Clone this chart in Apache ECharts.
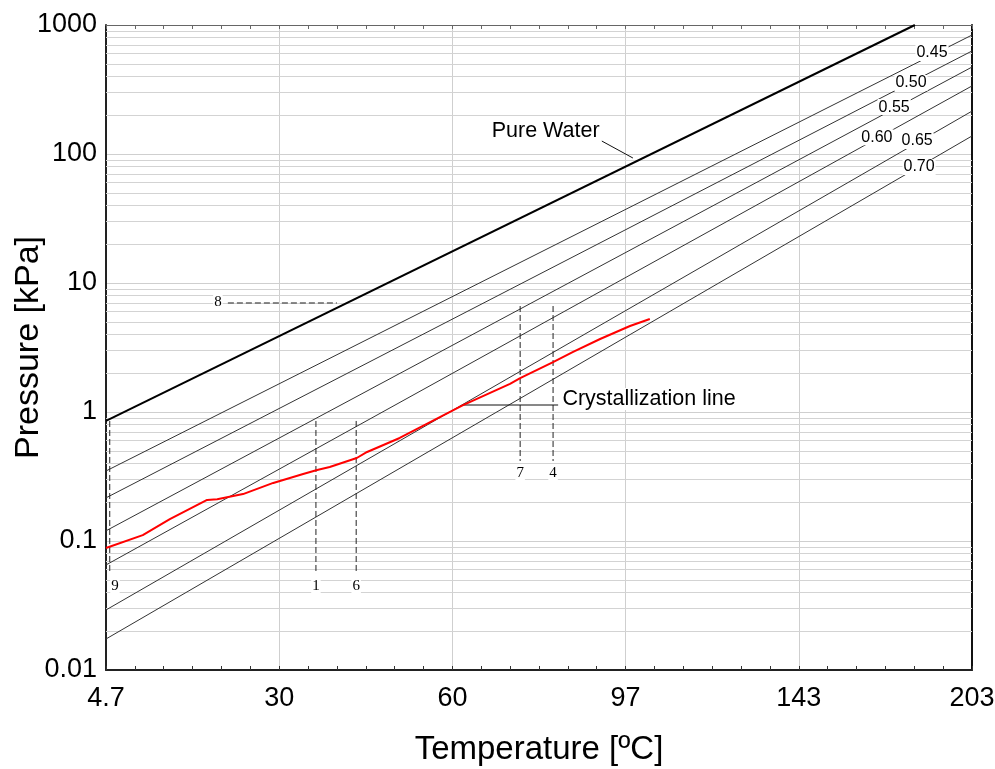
<!DOCTYPE html>
<html>
<head>
<meta charset="utf-8">
<script src="https://cdn.jsdelivr.net/npm/echarts@6/dist/echarts.min.js"></script>
<style>
html, body { margin: 0; padding: 0; background: #fff; }
#chart { width: 995px; height: 769px; }
</style>
</head>
<body>
<div id="chart"></div>
<script>
// tick labels
var tempTicks = ['4.7', '30', '60', '97', '143', '203'];
var pressureTicks = ['0.01', '0.1', '1', '10', '100', '1000'];

// [temperature ºC, pressure kPa]
var pureWater = [[4.7, 0.852], [181.6, 1000]];
var conc045 = [[4.7, 0.349], [203, 836]];
var conc050 = [[4.7, 0.216], [203, 629]];
var conc055 = [[4.7, 0.120], [203, 472]];
var conc060 = [[4.7, 0.0652], [203, 337]];
var conc065 = [[4.7, 0.0292], [203, 215]];
var conc070 = [[4.7, 0.0174], [203, 138]];
var crystallization = [[4.7, 0.0883], [9.7, 0.111], [13.5, 0.148], [18.9, 0.208], [20.4, 0.211],
	[24.3, 0.231], [29.0, 0.282], [33.8, 0.331], [36.1, 0.355], [38.2, 0.375], [42.8, 0.440],
	[44.6, 0.490], [50.4, 0.629], [62.3, 1.13], [71.7, 1.65], [73.8, 1.83], [80.8, 2.44],
	[85.2, 2.92], [91.3, 3.68], [98.3, 4.64], [103.1, 5.26]];

// concentration labels sitting on their lines
var concNames = ['0.45', '0.50', '0.55', '0.60', '0.65', '0.70'];
var concLabelAt = [[187.8, 607], [180.2, 355], [174.3, 231], [168.4, 135], [182.4, 126], [183.1, 79.3]];

// numbered state points (dashed guides)
var markerNames = ['9', '1', '6', '7', '4'];
var markerTemps = [5.2, 35.9, 42.7, 73.8, 80.8];
var markerTop = [0.852, 0.852, 0.852, 6.63, 6.63];
var markerBottom = [0.0585, 0.0555, 0.0555, 0.417, 0.417];
var markerLabelAt = [[5.9, 0.0448], [35.9, 0.0448], [42.7, 0.0448], [73.8, 0.337], [80.8, 0.337]];
var marker8 = [[22.0, 7.0], [39.4, 7.0]];
var marker8Label = [20.5, 7.13];

var pureWaterLeader = [[91.7, 126], [99.0, 93.1]];
var pureWaterLabelAt = [79.2, 150.7];
var crystLeader = [[62.3, 1.133], [81.9, 1.133]];
var crystLabelAt = [82.5, 1.26];

// x axis is linear in 1/T (Dühring style), ticks equally spaced
function inv(t) { return 1 / (t + 273.15); }
function toX(t) { return (inv(4.7) - inv(t)) / (inv(4.7) - inv(203)) * 5; }
function pts(list) {
	return list.map(function(p) { return [toX(p[0]), p[1]]; });
}

var minorGrid = [];
for (var k = -2; k <= 2; k++) {
	for (var m = 2; m <= 9; m++) {
		minorGrid.push({ yAxis: m * Math.pow(10, k) });
	}
}

var sans = 'Liberation Sans, Arial, sans-serif';
var serif = 'Liberation Serif, Times New Roman, serif';

function plainLine(name, data, color, width, z, dash) {
	return {
		name: name,
		type: 'line',
		data: pts(data),
		symbol: 'none',
		silent: true,
		z: z,
		lineStyle: { color: color, width: width, type: dash || 'solid' }
	};
}

function textPoint(name, at, font, size, pos) {
	return {
		type: 'scatter',
		silent: true,
		z: 10,
		symbolSize: 1,
		itemStyle: { color: 'transparent', opacity: 1 },
		data: [{ name: name, value: [toX(at[0]), at[1]] }],
		label: {
			show: true,
			position: pos || 'inside',
			distance: 0,
			formatter: '{b}',
			fontFamily: font,
			fontSize: size,
			color: '#000',
			opacity: 1,
			backgroundColor: '#fff',
			padding: [0, 1]
		}
	};
}

var series = [];
series.push({
	type: 'line',
	data: [[0, 0.01]],
	symbol: 'none',
	silent: true,
	z: 1,
	lineStyle: { opacity: 0 },
	markLine: {
		silent: true,
		z: 1,
		symbol: 'none',
		label: { show: false },
		lineStyle: { color: '#d3d3d3', type: 'solid', width: 1 },
		data: minorGrid
	}
});

var concLines = [conc045, conc050, conc055, conc060, conc065, conc070];
concLines.forEach(function(d, i) {
	series.push(plainLine(concNames[i], d, '#333', 1, 3));
});
series.push(plainLine('Pure Water', pureWater, '#000', 2, 4));
series.push(plainLine('Crystallization line', crystallization, '#ff0000', 2, 5));

markerNames.forEach(function(n, i) {
	series.push(plainLine('m' + n, [[markerTemps[i], markerTop[i]], [markerTemps[i], markerBottom[i]]], '#222', 1, 4, [6, 3]));
	series.push(textPoint(n, markerLabelAt[i], serif, 15));
});
series.push(plainLine('m8', marker8, '#222', 1, 4, [6, 3]));
series.push(textPoint('8', marker8Label, serif, 15));

series.push(plainLine('pwLeader', pureWaterLeader, '#111', 1, 4));
series.push(textPoint('Pure Water', pureWaterLabelAt, sans, 21.5));
series.push(plainLine('crLeader', crystLeader, '#111', 1, 4));
series.push(textPoint('Crystallization line', crystLabelAt, sans, 21.5, 'right'));

concNames.forEach(function(n, i) {
	series.push(textPoint(n, concLabelAt[i], sans, 16));
});

var chart = echarts.init(document.getElementById('chart'));
chart.setOption({
	animation: false,
	backgroundColor: '#fff',
	grid: { left: 106, right: 23, top: 25, bottom: 99, containLabel: false, outerBoundsMode: 'none' },
	xAxis: [{
		type: 'value',
		min: 0,
		max: 5,
		interval: 1,
		name: 'Temperature [ºC]',
		nameLocation: 'middle',
		nameGap: 63,
		nameMoveOverlap: false,
		nameTextStyle: { fontFamily: sans, fontSize: 33, color: '#000' },
		axisLine: { show: true, onZero: false, lineStyle: { color: '#222', width: 2 } },
		axisTick: { show: true, inside: true, length: 4, lineStyle: { color: '#333' } },
		minorTick: { show: true, splitNumber: 6, length: 4, lineStyle: { color: '#333' } },
		axisLabel: {
			margin: 15,
			fontFamily: sans,
			fontSize: 27,
			color: '#000',
			formatter: function(v) { return tempTicks[Math.round(v)]; }
		},
		splitLine: { show: true, lineStyle: { color: '#cfcfcf', width: 1 } }
	}, {
		type: 'value',
		position: 'top',
		min: 0,
		max: 5,
		interval: 1,
		axisLine: { show: true, onZero: false, lineStyle: { color: '#666', width: 1 } },
		axisTick: { show: true, inside: true, length: 4, lineStyle: { color: '#666' } },
		minorTick: { show: true, splitNumber: 6, length: 4, lineStyle: { color: '#666' } },
		axisLabel: { show: false },
		splitLine: { show: false }
	}],
	yAxis: [{
		type: 'log',
		logBase: 10,
		min: 0.01,
		max: 1000,
		name: 'Pressure [kPa]',
		nameLocation: 'middle',
		nameGap: 60,
		nameMoveOverlap: false,
		nameTextStyle: { fontFamily: sans, fontSize: 34, color: '#000' },
		axisLine: { show: true, onZero: false, lineStyle: { color: '#222', width: 2 } },
		axisTick: { show: false },
		axisLabel: {
			margin: 9,
			fontFamily: sans,
			fontSize: 27,
			color: '#000',
			formatter: function(v) { return pressureTicks[Math.round(Math.log10(v)) + 2]; }
		},
		splitLine: { show: true, lineStyle: { color: '#cfcfcf', width: 1 } }
	}, {
		type: 'log',
		logBase: 10,
		min: 0.01,
		max: 1000,
		position: 'right',
		axisLine: { show: true, onZero: false, lineStyle: { color: '#111', width: 2 } },
		axisTick: { show: false },
		axisLabel: { show: false },
		splitLine: { show: false }
	}],
	series: series
});
</script>
</body>
</html>
